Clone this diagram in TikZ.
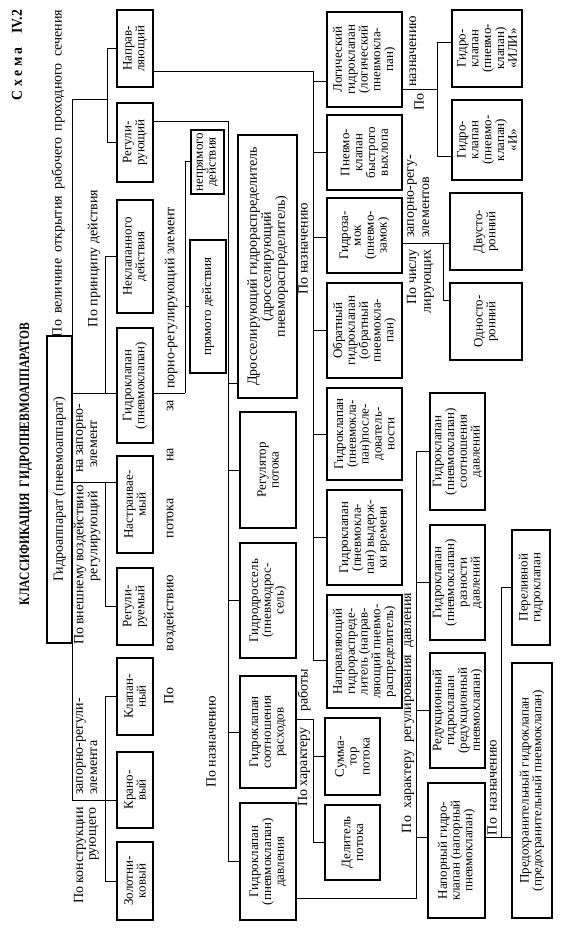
\documentclass[tikz,border=0pt]{standalone}
\usepackage{fontspec}
\usepackage{graphicx}
\setmainfont{Liberation Serif}
\begin{document}
\begin{tikzpicture}[x=1pt,y=-1pt,
  bx/.style={draw,line width=1.2pt,rotate=90,align=center,inner sep=1pt,
    font=\fontsize{13}{12.8}\selectfont},
  lb/.style={rotate=90,inner sep=0pt,font=\fontsize{14}{14}\selectfont},
  ln/.style={line width=1pt}]
\useasboundingbox (0,0) rectangle (566,933);
\fill[white] (0,0) rectangle (566,933);

% headers
\node[lb] (schema) at (17,55) {\resizebox{90pt}{10pt}{\bfseries С\ х\ е\ м\ а\quad IV.2}};
\node[lb] (title) at (26,464) {\resizebox{282pt}{9.5pt}{\bfseries КЛАССИФИКАЦИЯ\ \ ГИДРОПНЕВМОАППАРАТОВ}};

% root and main bus
\node[bx,minimum width=307pt,minimum height=25pt,font=\fontsize{14}{14}\selectfont] (root) at (59.5,489.5) {Гидроаппарат (пневмоаппарат)};
\coordinate (mb1) at (72,100);
\coordinate (mb2) at (72,800);
\draw[ln] (mb1) -- (mb2);

% by opening
\node[lb] (l1) at (58,173.5) {\makebox[327pt][s]{По величине открытия рабочего проходного сечения}};
\node[bx,minimum width=77pt,minimum height=36pt] (napr) at (135,48.5) {Направ-\\ляющий};
\node[bx,minimum width=79pt,minimum height=36pt] (regul) at (135,142.5) {Регули-\\рующий};
\coordinate (s1c) at (107,100);
\coordinate (s1a) at (107,48.5);
\coordinate (s1b) at (107,142.5);
\draw[ln] (mb1) -- (s1c);
\draw[ln] (s1a) -- (s1b);
\draw[ln] (s1a) -- (napr.north);
\draw[ln] (s1b) -- (regul.north);

% by principle
\node[lb] (l2) at (94,258.5) {\makebox[137pt][s]{По принципу действия}};
\node[bx,minimum width=113pt,minimum height=36pt] (nekl) at (135,256.5) {Неклапанного\\действия};
\node[bx,minimum width=115pt,minimum height=36pt] (gk) at (135,385.5) {Гидроклапан\\(пневмоклапан)};
\coordinate (m2) at (72,393);
\coordinate (s2a) at (105,256.5);
\coordinate (s2b) at (105,393);
\draw[ln] (m2) -- (gk.north |- m2);
\draw[ln] (s2a) -- (s2b);
\draw[ln] (s2a) -- (nekl.north);

% by external action
\node[lb,anchor=east] (l3a) at (80,489) {\makebox[155pt][s]{По внешнему воздействию}};
\node[lb,anchor=east] (l3b) at (94,491) {регулирующий};
\node[lb,anchor=west] (l3c) at (81,473) {на запорно-};
\node[lb,anchor=west] (l3d) at (94,468) {элемент};
\node[bx,minimum width=97pt,minimum height=36pt] (nastr) at (135,504.5) {Настраивае-\\мый};
\node[bx,minimum width=77pt,minimum height=36pt] (reg) at (135,606.5) {Регули-\\руемый};
\coordinate (m3) at (72,482);
\coordinate (s3a) at (105,482);
\coordinate (s3b) at (105,606.5);
\draw[ln] (m3) -- (nastr.north |- m3);
\draw[ln] (s3a) -- (s3b) -- (reg.north);

% by construction
\node[lb,anchor=east] (l4a) at (80,807) {\makebox[96pt][s]{По конструкции}};
\node[lb,anchor=east] (l4b) at (94,807) {рующего};
\node[lb,anchor=west] (l4c) at (81,795) {запорно-регули-};
\node[lb,anchor=west] (l4d) at (94,795) {элемента};
\node[bx,minimum width=77pt,minimum height=36pt] (klap) at (135,696.5) {Клапан-\\ный};
\node[bx,minimum width=76pt,minimum height=36pt] (kran) at (135,790) {Крано-\\вый};
\node[bx,minimum width=78pt,minimum height=36pt] (zol) at (135,881) {Золотни-\\ковый};
\coordinate (s4a) at (105,696.5);
\coordinate (s4b) at (105,881);
\draw[ln] (mb2) -- (kran.north |- mb2);
\draw[ln] (s4a) -- (s4b);
\draw[ln] (s4a) -- (klap.north);
\draw[ln] (s4b) -- (zol.north);

% by flow action
\node[lb,anchor=west] (l5a) at (170,705) {\makebox[305pt][s]{По воздействию потока на за}};
\node[lb,anchor=west] (l5b) at (171,389) {порно-регулирующий элемент};
\node[bx,minimum width=64pt,minimum height=33pt] (nepr) at (207.5,162) {непрямого\\действия};
\node[bx,minimum width=133pt,minimum height=36pt] (pr) at (208,306.5) {прямого действия};
\coordinate (s5a) at (185,162);
\coordinate (s5b) at (185,393);
\draw[ln] (gk.south |- m2) -- (s5b);
\draw[ln] (s5a) -- (s5b);
\draw[ln] (s5a) -- (nepr.north);
\draw[ln] (pr.north -| s5a) -- (pr.north);

% regulating group
\coordinate (r0) at (228,122);
\coordinate (r1) at (228,861.5);
\draw[ln] (regul.south |- r0) -- (r0) -- (r1);
\node[lb] (l6) at (211,742) {По назначению};
\node[bx,minimum width=263pt,minimum height=59pt,font=\fontsize{14}{14}\selectfont] (dross) at (267.5,266.5) {Дросселирующий гидрораспределитель\\(дросселирующий\\пневмораспределитель)};
\node[bx,minimum width=116pt,minimum height=56pt] (rflow) at (268,470) {Регулятор\\потока};
\node[bx,minimum width=115pt,minimum height=56pt] (gdross) at (268,600.5) {Гидродроссель\\(пневмодрос-\\сель)};
\node[bx,minimum width=112pt,minimum height=56pt] (gksr) at (268,732) {Гидроклапан\\соотношения\\расходов};
\node[bx,minimum width=117pt,minimum height=56pt] (gkd) at (268,861.5) {Гидроклапан\\(пневмоклапан)\\давления};
\draw[ln] (r0 |- 0,383) -- (dross.north |- 0,383);
\draw[ln] (r0 |- rflow.north) -- (rflow.north);
\draw[ln] (r0 |- gdross.north) -- (gdross.north);
\draw[ln] (r0 |- gksr.north) -- (gksr.north);
\draw[ln] (r1) -- (gkd.north);

% directional group
\coordinate (n0) at (313,72);
\coordinate (n1) at (313,660);
\draw[ln] (napr.south |- n0) -- (n0) -- (n1);
\node[lb] (l7) at (303,248.5) {По назначению};
\node[bx,minimum width=95pt,minimum height=75pt] (log) at (364.5,59.5) {Логический\\гидроклапан\\(логический\\пневмокла-\\пан)};
\node[bx,minimum width=75pt,minimum height=75pt] (vyh) at (364.5,152.5) {Пневмо-\\клапан\\быстрого\\выхлопа};
\node[bx,minimum width=75pt,minimum height=75pt] (zam) at (364.5,235.5) {Гидроза-\\мок\\(пневмо-\\замок)};
\node[bx,minimum width=95pt,minimum height=75pt] (obr) at (364.5,330.5) {Обратный\\гидроклапан\\(обратный\\пневмокла-\\пан)};
\node[bx,minimum width=92pt,minimum height=75pt] (posl) at (364.5,434) {Гидроклапан\\(пневмокла-\\пан)после-\\дователь-\\ности};
\node[bx,minimum width=95pt,minimum height=75pt] (vyd) at (364.5,537.5) {Гидроклапан\\(пневмокла-\\пан) выдерж-\\ки времени};
\node[bx,minimum width=113pt,minimum height=75pt] (nrasp) at (364.5,651.5) {Направляющий\\гидрораспреде-\\литель (направ-\\ляющий пневмо-\\распределитель)};
\draw[ln] (n0 |- 0,82) -- (log.north |- 0,82);
\draw[ln] (n0 |- vyh.north) -- (vyh.north);
\draw[ln] (n0 |- 0,237) -- (zam.north |- 0,237);
\draw[ln] (n0 |- obr.north) -- (obr.north);
\draw[ln] (n0 |- posl.north) -- (posl.north);
\draw[ln] (n0 |- vyd.north) -- (vyd.north);
\draw[ln] (n1) -- (nrasp.north |- n1);

% logic valves
\node[lb] (l8a) at (419,102) {По};
\node[lb,anchor=west] (l8b) at (413,87) {назначению};
\coordinate (gm) at (437,90);
\coordinate (g0) at (437,43);
\coordinate (g1) at (437,157);
\node[bx,minimum width=77pt,minimum height=70pt] (bili) at (487,48.5) {Гидро-\\клапан\\(пневмо-\\клапан)\\«ИЛИ»};
\node[bx,minimum width=80pt,minimum height=70pt] (bi) at (487,140) {Гидро-\\клапан\\(пневмо-\\клапан)\\«И»};
\draw[ln] (log.south |- gm) -- (gm);
\draw[ln] (g0) -- (g1);
\draw[ln] (g0) -- (bili.north |- g0);
\draw[ln] (g1) -- (bi.north |- g1);

% hydrolock
\node[lb,anchor=west] (l9a) at (412,238) {запорно-регу-};
\node[lb,anchor=west] (l9b) at (426,238) {элементов};
\node[lb,anchor=east] (l9c) at (413,249) {По числу};
\node[lb,anchor=east] (l9d) at (429,249) {лирующих};
\coordinate (z0) at (443,243);
\coordinate (z1) at (443,300);
\node[bx,minimum width=77pt,minimum height=72pt] (dvu) at (486,231.5) {Двусто-\\ронний};
\node[bx,minimum width=77pt,minimum height=72pt] (odn) at (486,321.5) {Односто-\\ронний};
\draw[ln] (zam.south |- z0) -- (dvu.north |- z0);
\draw[ln] (z0) -- (z1) -- (odn.north |- z1);

% flow ratio
\node[lb,anchor=east] (l10a) at (304,727) {По характеру};
\node[lb,anchor=west] (l10b) at (304,712) {работы};
\coordinate (w0) at (313,719);
\coordinate (w1) at (313,842.5);
\node[bx,minimum width=77pt,minimum height=55pt] (summ) at (352.5,756.5) {Сумма-\\тор\\потока};
\node[bx,minimum width=75pt,minimum height=55pt] (del) at (352.5,842.5) {Делитель\\потока};
\draw[ln] (gksr.south |- w0) -- (w0) -- (w1);
\draw[ln] (w0 |- summ.north) -- (summ.north);
\draw[ln] (w1) -- (del.north);

% pressure valves
\node[lb] (l11) at (408,713) {\makebox[240pt][s]{По характеру регулирования давления}};
\coordinate (d0) at (416,898);
\coordinate (d1) at (416,451.5);
\node[bx,minimum width=117pt,minimum height=55pt] (sootnd) at (457.5,451.5) {Гидроклапан\\(пневмоклапан)\\соотношения\\давлений};
\node[bx,minimum width=115pt,minimum height=55pt] (razn) at (457.5,582.5) {Гидроклапан\\(пневмоклапан)\\разности\\давлений};
\node[bx,minimum width=115pt,minimum height=55pt] (red) at (457.5,710.5) {Редукционный\\гидроклапан\\(редукционный\\пневмоклапан)};
\node[bx,minimum width=135pt,minimum height=57pt] (nap) at (456.5,850.5) {Напорный гидро-\\клапан (напорный\\пневмоклапан)};
\draw[ln] (gkd.south |- d0) -- (d0) -- (d1);
\draw[ln] (d1) -- (sootnd.north);
\draw[ln] (d0 |- razn.north) -- (razn.north);
\draw[ln] (d0 |- red.north) -- (red.north);
\draw[ln] (d0 |- 0,837) -- (nap.north |- 0,837);

% relief valves
\node[lb] (l12) at (492,787.5) {\makebox[95pt][s]{По назначению}};
\coordinate (p0) at (501,837);
\coordinate (p1) at (501,587.5);
\node[bx,minimum width=115pt,minimum height=38pt] (perel) at (531,587.5) {Переливной\\гидроклапан};
\node[bx,minimum width=255pt,minimum height=40pt] (pred) at (532,790.5) {Предохранительный гидроклапан\\(предохранительный пневмоклапан)};
\draw[ln] (nap.south |- p0) -- (pred.north |- p0);
\draw[ln] (p0) -- (p1) -- (perel.north);
\end{tikzpicture}
\end{document}
